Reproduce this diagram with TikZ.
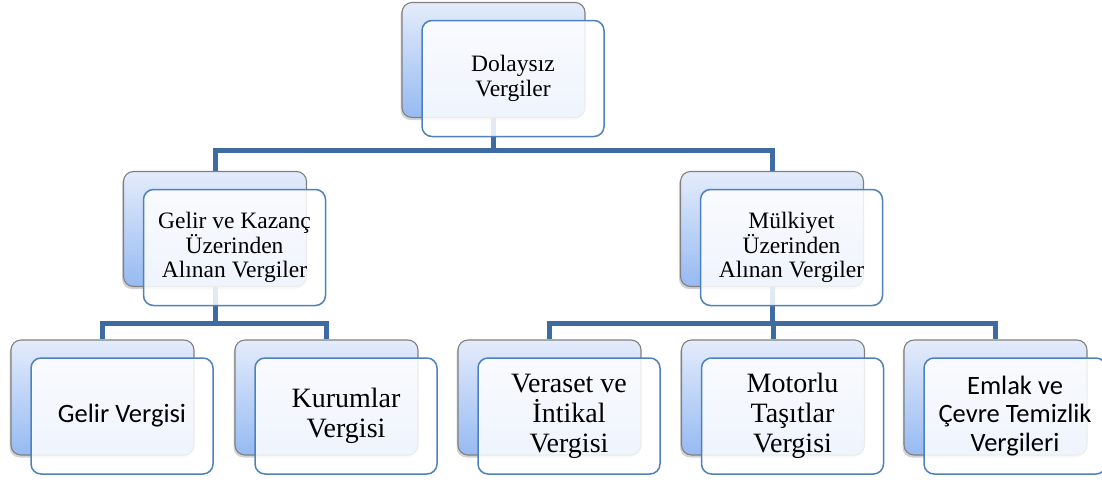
\documentclass[tikz,border=0pt]{standalone}
\usepackage{fontspec}
\setmainfont{Liberation Serif}
\newfontfamily\carlito{Carlito}
\usepackage{tikz}
\usetikzlibrary{calc,shadows,backgrounds}

\definecolor{backtop}{RGB}{228,236,251}
\definecolor{backbottom}{RGB}{150,186,242}
\definecolor{backline}{RGB}{128,128,128}
\definecolor{frontline}{RGB}{79,129,189}
\definecolor{connline}{RGB}{62,108,162}

\begin{document}
\begin{tikzpicture}[x=1pt,y=-1pt] % vergi semasi
    \newcommand\taxbox[4]{% name, position, font, text
        \node[backbox] (#1B) at (#2) {};
        \node[frontbox,font=#3] (#1) at ($(#1B)+(\dx,\dy)$) {#4};
    }

    \tikzset{%
        backbox/.style={draw=backline,line width=1.1pt,rounded corners=10pt,
                top color=backtop,bottom color=backbottom,
                minimum width=183pt,minimum height=115pt,inner sep=0pt,
                drop shadow={shadow xshift=-1.5pt,shadow yshift=-2.5pt,opacity=0.35}},
        frontbox/.style={draw=frontline,line width=1.5pt,rounded corners=10pt,
                fill=white,fill opacity=0.85,text opacity=1,
                minimum width=182pt,minimum height=116pt,inner sep=2pt,
                align=center},
        conn/.style={draw=connline,line width=5pt}
    }
    %% some definitions

    \def\dx{19.5} % offset of front box
    \def\dy{18.5}
    \def\fMid{\fontsize{23.5}{24.5}\selectfont} % upper boxes
    \def\fLow{\fontsize{28}{30}\selectfont} % lower boxes
    \def\fCal{\carlito\fontsize{26.5}{28.5}\selectfont}

    \useasboundingbox (0,0) rectangle (1102,482);

    %% boxes

    \taxbox{top}{493.5,60}{\fMid}{Dolaysız\\Vergiler}
    \taxbox{gk}{215,229}{\fMid}{Gelir ve Kazanç\\Üzerinden\\Alınan Vergiler}
    \taxbox{mu}{772,229}{\fMid}{Mülkiyet\\Üzerinden\\Alınan Vergiler}
    \taxbox{gelir}{102.5,397.5}{\fCal}{Gelir Vergisi}
    \taxbox{kurum}{326.5,397.5}{\fLow}{Kurumlar\\Vergisi}
    \taxbox{veraset}{549.5,397.5}{\fLow}{Veraset ve\\İntikal\\Vergisi}
    \taxbox{motor}{773,397.5}{\fLow}{Motorlu\\Taşıtlar\\Vergisi}
    \taxbox{emlak}{995.5,397.5}{\fCal}{Emlak ve\\Çevre Temizlik\\Vergileri}

    %% connectors

    \coordinate (busA) at (0,150);
    \coordinate (busB) at (0,323);
    \begin{scope}[on background layer]
        \draw[conn] (topB) -- (topB |- busA) -| (gkB.north);
        \draw[conn] (topB) -- (topB |- busA) -| (muB.north);
        \draw[conn] (gkB) -- (gkB |- busB) -| (gelirB.north);
        \draw[conn] (gkB) -- (gkB |- busB) -| (kurumB.north);
        \draw[conn] (muB) -- (muB |- busB) -| (verasetB.north);
        \draw[conn] (muB) -- (muB |- busB) -| (motorB.north);
        \draw[conn] (muB) -- (muB |- busB) -| (emlakB.north);
    \end{scope}
\end{tikzpicture}
\end{document}
